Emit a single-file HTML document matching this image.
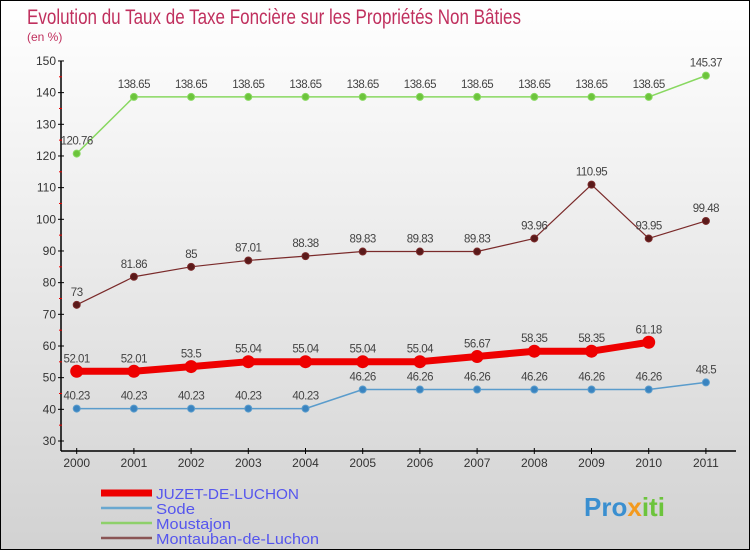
<!DOCTYPE html>
<html><head><meta charset="utf-8"><style>
body{margin:0}
#c{width:750px;height:550px;position:relative;box-sizing:border-box;border:1px solid #000;background:linear-gradient(#fff,#f2f2f2 30%,#d2d2d2);font-family:"Liberation Sans",sans-serif;overflow:hidden}
</style></head><body>
<div id="c">
<svg id="s" width="750" height="550" style="position:absolute;left:0;top:0">
<text x="26" y="23" font-size="21" fill="#c0305e" textLength="494" lengthAdjust="spacingAndGlyphs">Evolution du Taux de Taxe Foncière sur les Propriétés Non Bâties</text>
<text x="26" y="40" font-size="12" fill="#c0305e">(en %)</text>
<g id="axes"></g><g id="series"></g><g id="legend"></g>
</svg>
</div>
<script>
const years=["2000","2001","2002","2003","2004","2005","2006","2007","2008","2009","2010","2011"];
const yTicks=[30,40,50,60,70,80,90,100,110,120,130,140,150];
const juzet=[52.01,52.01,53.5,55.04,55.04,55.04,55.04,56.67,58.35,58.35,61.18,null];
const sode=[40.23,40.23,40.23,40.23,40.23,46.26,46.26,46.26,46.26,46.26,46.26,48.5];
const moustajon=[120.76,138.65,138.65,138.65,138.65,138.65,138.65,138.65,138.65,138.65,138.65,145.37];
const montauban=[73,81.86,85,87.01,88.38,89.83,89.83,89.83,93.96,110.95,93.95,99.48];
const seriesNames=["JUZET-DE-LUCHON","Sode","Moustajon","Montauban-de-Luchon"];
const NS="http://www.w3.org/2000/svg";
const X=i=>75.7+i*57.2;
const Y=v=>440-(v-30)*31.67/10;
function el(t,a,p){const e=document.createElementNS(NS,t);for(const k in a)e.setAttribute(k,a[k]);p.appendChild(e);return e;}
const ax=document.getElementById('axes');
let l=el('line',{x1:60,y1:60,x2:60,y2:450,stroke:'#000','stroke-width':1.5},ax);


l=el('line',{x1:60,y1:450,x2:735,y2:450,stroke:'#000','stroke-width':1.5},ax);


yTicks.forEach((v,i)=>{
 el('line',{x1:57,y1:Y(v),x2:63,y2:Y(v),stroke:'#000'},ax);
 if(i<yTicks.length-1) el('line',{x1:58,y1:Y(v+5),x2:61,y2:Y(v+5),stroke:'#e00'},ax);
 const t=el('text',{x:55,y:Y(v)+4,'text-anchor':'end','font-size':12,fill:'#333'},ax);
 t.textContent=v;
 
 
});
years.forEach((y,i)=>{
 el('line',{x1:X(i),y1:447,x2:X(i),y2:453,stroke:'#000'},ax);
 const t=el('text',{x:X(i),y:466,'text-anchor':'middle','font-size':12,fill:'#333'},ax);
 t.textContent=y;
 
 
});
const sg=document.getElementById('series');
function draw(data,color,dot,lw,r,name){
 const g=el('g',{},sg);
 
 
 const pts=data.map((v,i)=>v==null?null:[X(i),Y(v)]).filter(p=>p);
 el('polyline',{points:pts.map(p=>p.join(',')).join(' '),fill:'none',stroke:color,'stroke-width':lw,'stroke-linejoin':'round'},g);
 data.forEach((v,i)=>{if(v==null)return;
  const c=el('circle',{cx:X(i),cy:Y(v),r:r,fill:dot,stroke:color,'stroke-width':1},g);
  
  
  const t=el('text',{x:X(i),y:Y(v)-9,'text-anchor':'middle','font-size':11.5,fill:'#444','letter-spacing':'-0.5'},g);
  t.textContent=v;
  
  
 });
}
draw(moustajon,'#88d860','#6cc43c',1.5,3.5,'moustajon');
draw(montauban,'#7a2a2a','#5a1a1a',1.2,3.5,'montauban');
draw(sode,'#5a9ccc','#3a84c0',1.5,3.5,'sode');
draw(juzet,'#ee0000','#ee0000',7,6,'juzet');
const lg=document.getElementById('legend');
const lc=['#ee0000','#6aa8d0','#8ed06a','#8a5555'],lw=[7,2.5,2.5,2.5],ly=[492,507,522,537],tl=[143,39,75,163];
seriesNames.forEach((n,i)=>{
 el('line',{x1:100,y1:ly[i],x2:151,y2:ly[i],stroke:lc[i],'stroke-width':lw[i]},lg);
 const t=el('text',{x:155,y:ly[i]+6,'font-size':15,fill:'#5555ee',textLength:tl[i],lengthAdjust:'spacingAndGlyphs'},lg);
 t.textContent=n;
 
 
});
const p=el('text',{x:583,y:515,'font-size':26,'font-weight':'bold',fill:'#f39a1e'},lg);
p.innerHTML='<tspan fill="#3a8fd0">Pro</tspan><tspan fill="#f39a1e">x</tspan><tspan fill="#6cc43c">iti</tspan>';


</script>
</body></html>
